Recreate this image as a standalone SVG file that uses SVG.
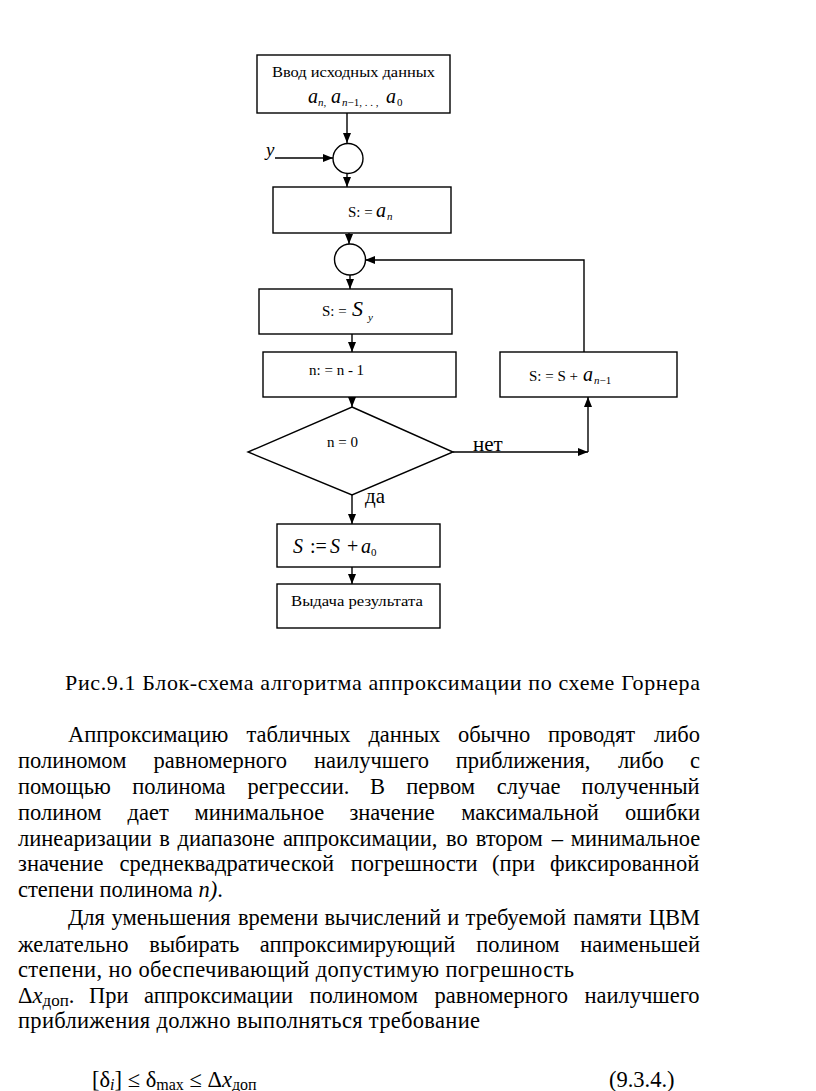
<svg xmlns="http://www.w3.org/2000/svg" width="816" height="1091" viewBox="0 0 816 1091">
<style>
.ln{stroke:#000;stroke-width:1.4;fill:none}
.box{fill:#fff;stroke:#000;stroke-width:1.4}
text{font-family:"Liberation Serif","Times New Roman","DejaVu Serif",serif;fill:#000}
.f{font-size:15px}
.b{font-size:22.5px}
.i{font-style:italic}
</style>
<defs>
<marker id="ah" markerWidth="10" markerHeight="8" refX="10" refY="4" orient="auto" markerUnits="userSpaceOnUse">
<path d="M0,0 L10,4 L0,8 z" fill="#000"/>
</marker>
</defs>
<rect width="816" height="1091" fill="#fff"/>

<g id="connectors">
<line class="ln" x1="347" y1="113" x2="347" y2="143" marker-end="url(#ah)"/>
<line class="ln" x1="275" y1="158" x2="333" y2="158" marker-end="url(#ah)"/>
<line class="ln" x1="347" y1="174" x2="347" y2="187" marker-end="url(#ah)"/>
<line class="ln" x1="349" y1="233" x2="349" y2="244" marker-end="url(#ah)"/>
<line class="ln" x1="350" y1="275" x2="350" y2="289" marker-end="url(#ah)"/>
<line class="ln" x1="352" y1="334" x2="352" y2="352" marker-end="url(#ah)"/>
<line class="ln" x1="352" y1="397" x2="352" y2="407" marker-end="url(#ah)"/>
<line class="ln" x1="453" y1="452" x2="588" y2="452" marker-end="url(#ah)"/>
<line class="ln" x1="588" y1="452" x2="588" y2="397" marker-end="url(#ah)"/>
<polyline class="ln" points="584,352 584,260 365,260" marker-end="url(#ah)"/>
<line class="ln" x1="352" y1="495" x2="352" y2="524" marker-end="url(#ah)"/>
<line class="ln" x1="352" y1="567" x2="352" y2="584" marker-end="url(#ah)"/>
<text class="i" x="266" y="156" font-size="19">y</text>
<text x="473" y="451" font-size="21">нет</text>
<text x="365" y="503" font-size="21">да</text>
</g>

<g id="input">
<rect class="box" x="257" y="55" width="193" height="58"/>
<text class="f" x="272" y="77" textLength="163" lengthAdjust="spacingAndGlyphs">Ввод исходных данных</text>
<text y="103" font-size="20"><tspan class="i" x="308">a</tspan><tspan x="318" y="106" font-size="11"><tspan class="i">n</tspan>,</tspan><tspan class="i" x="331" y="103">a</tspan><tspan x="342" y="106" font-size="11"><tspan class="i">n</tspan>−1, . . ,</tspan><tspan class="i" x="386" y="103">a</tspan><tspan x="397" y="106" font-size="11">0</tspan></text>
</g>

<g id="join1">
<circle class="box" cx="348" cy="158.5" r="15"/>
</g>

<g id="init">
<rect class="box" x="273" y="187" width="178" height="46"/>
<text class="f" x="348" y="217">S: =<tspan class="i" x="376" font-size="20">a</tspan><tspan class="i" x="387" y="220" font-size="11">n</tspan></text>
</g>

<g id="join2">
<circle class="box" cx="350" cy="259.5" r="15.5"/>
</g>

<g id="sy">
<rect class="box" x="259" y="289" width="193" height="45"/>
<text class="f" x="322" y="316">S: =<tspan class="i" x="352" font-size="22">S</tspan><tspan class="i" x="368" y="321" font-size="11">y</tspan></text>
</g>

<g id="dec">
<rect class="box" x="263" y="352" width="193" height="45"/>
<text class="f" x="309" y="375">n: = n - 1</text>
</g>

<g id="cond">
<polygon class="box" points="352,407 453,452 352,495 248,452"/>
<text class="f" x="327" y="447">n = 0</text>
</g>

<g id="acc">
<rect class="box" x="500" y="352" width="177" height="45"/>
<text class="f" x="529" y="381">S: = S +<tspan class="i" x="583" font-size="20">a</tspan><tspan x="594" y="384" font-size="11"><tspan class="i">n</tspan>−1</tspan></text>
</g>

<g id="final">
<rect class="box" x="277" y="524" width="163" height="43"/>
<text y="553" font-size="20"><tspan class="i" x="293">S</tspan><tspan x="310">:=</tspan><tspan class="i" x="330">S</tspan><tspan x="347">+</tspan><tspan class="i" x="361">a</tspan><tspan x="371" y="556" font-size="11">0</tspan></text>
</g>

<g id="output">
<rect class="box" x="277" y="584" width="163" height="44"/>
<text class="f" x="291" y="606" textLength="132" lengthAdjust="spacingAndGlyphs">Выдача результата</text>
</g>

<g id="caption">
<text x="65" y="690" font-size="22" textLength="635" lengthAdjust="spacing">Рис.9.1 Блок-схема алгоритма аппроксимации по схеме Горнера</text>
</g>

<g id="body" class="b">
<text y="742"><tspan x="68">Аппроксимацию</tspan><tspan x="246.5">табличных</tspan><tspan x="368.4">данных</tspan><tspan x="457.9">обычно</tspan><tspan x="547.9">проводят</tspan><tspan x="654.1">либо</tspan></text>
<text y="768"><tspan x="18">полиномом</tspan><tspan x="153.6">равномерного</tspan><tspan x="314">наилучшего</tspan><tspan x="455.7">приближения,</tspan><tspan x="617.9">либо</tspan><tspan x="689.9">с</tspan></text>
<text y="794"><tspan x="18">помощью</tspan><tspan x="132.3">полинома</tspan><tspan x="247.5">регрессии.</tspan><tspan x="370.1">В</tspan><tspan x="406.2">первом</tspan><tspan x="496.7">случае</tspan><tspan x="581.6">полученный</tspan></text>
<text y="820"><tspan x="18">полином</tspan><tspan x="127.6">дает</tspan><tspan x="194.5">минимальное</tspan><tspan x="349.4">значение</tspan><tspan x="461.2">максимальной</tspan><tspan x="624.9">ошибки</tspan></text>
<text y="846"><tspan x="18">линеаризации</tspan><tspan x="159.3">в</tspan><tspan x="177.5">диапазоне</tspan><tspan x="282.9">аппроксимации,</tspan><tspan x="446.1">во</tspan><tspan x="475.7">втором</tspan><tspan x="551.8">–</tspan><tspan x="570.7">минимальное</tspan></text>
<text y="871"><tspan x="18">значение</tspan><tspan x="119.4">среднеквадратической</tspan><tspan x="350.8">погрешности</tspan><tspan x="492.1">(при</tspan><tspan x="550">фиксированной</tspan></text>
<text x="18" y="897">степени полинома <tspan class="i">n)</tspan>.</text>

<text y="925"><tspan x="68">Для</tspan><tspan x="111.5">уменьшения</tspan><tspan x="238">времени</tspan><tspan x="324.5">вычислений</tspan><tspan x="447.3">и</tspan><tspan x="465.6">требуемой</tspan><tspan x="573.3">памяти</tspan><tspan x="648.7">ЦВМ</tspan></text>
<text y="952"><tspan x="18">желательно</tspan><tspan x="149.3">выбирать</tspan><tspan x="259.8">аппроксимирующий</tspan><tspan x="476.2">полином</tspan><tspan x="580.2">наименьшей</tspan></text>
<text x="18" y="977" textLength="556" lengthAdjust="spacing">степени, но обеспечивающий допустимую погрешность</text>
<text y="1003"><tspan x="18">Δ</tspan><tspan class="i">x</tspan><tspan y="1006" font-size="17">доп</tspan><tspan y="1003">.</tspan><tspan x="89.1">При</tspan><tspan x="144.1">аппроксимации</tspan><tspan x="309.5">полиномом</tspan><tspan x="434.6">равномерного</tspan><tspan x="584.5">наилучшего</tspan></text>
<text x="18" y="1028" textLength="462" lengthAdjust="spacing">приближения должно выполняться требование</text>

<text x="92" y="1087">[δ<tspan class="i" y="1090" font-size="16">i</tspan><tspan y="1087">] ≤ δ</tspan><tspan y="1090" font-size="16">max</tspan><tspan y="1087"> ≤ Δ</tspan><tspan class="i">x</tspan><tspan y="1090" font-size="16">доп</tspan></text>
<text x="609" y="1087">(9.3.4.)</text>
</g>
</svg>
